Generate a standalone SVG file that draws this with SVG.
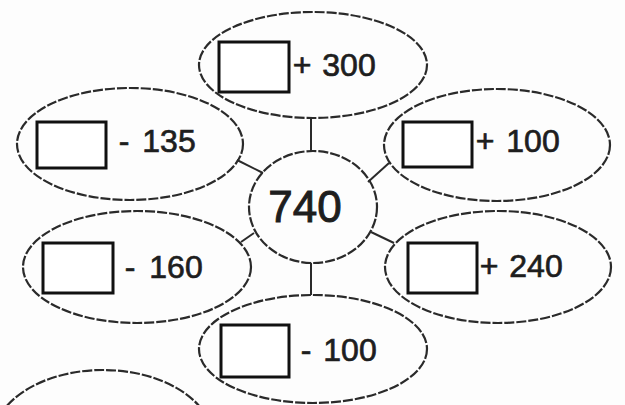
<svg xmlns="http://www.w3.org/2000/svg" width="625" height="405" viewBox="0 0 625 405">
<style>
.oval{fill:none;stroke:#2a2a2a;stroke-width:2.2;stroke-dasharray:10 2}
.box{fill:#fff;stroke:#111;stroke-width:3}
.conn{stroke:#2a2a2a;stroke-width:2;fill:none}
.t{font-family:"Liberation Sans",Arial,sans-serif;font-size:32px;fill:#1e1e1e;stroke:#1e1e1e;stroke-width:0.7;text-anchor:middle}
.big{font-size:44px;stroke-width:1}
</style>
<rect width="625" height="405" fill="#fdfdfd"/>
<g id="connectors">
<line class="conn" x1="311" y1="118" x2="311" y2="152"/>
<line class="conn" x1="311" y1="263" x2="311" y2="295"/>
<line class="conn" x1="237" y1="160" x2="263" y2="173"/>
<line class="conn" x1="389" y1="163" x2="368" y2="182"/>
<line class="conn" x1="254" y1="233" x2="241" y2="242"/>
<line class="conn" x1="371" y1="232" x2="394" y2="243"/>
</g>
<g id="center">
<ellipse class="oval" cx="313" cy="207" rx="64" ry="56"/>
<text class="t big" x="305" y="222">740</text>
</g>
<g id="top">
<ellipse class="oval" cx="313" cy="65" rx="114" ry="53"/>
<rect class="box" x="219" y="42" width="70" height="50"/>
<text class="t"><tspan x="302" y="76">+</tspan><tspan x="349" y="76">300</tspan></text>
</g>
<g id="upper-left">
<ellipse class="oval" cx="130" cy="144" rx="113" ry="56"/>
<rect class="box" x="37" y="122" width="69" height="46"/>
<text class="t"><tspan x="124" y="152">-</tspan><tspan x="169" y="152">135</tspan></text>
</g>
<g id="upper-right">
<ellipse class="oval" cx="497" cy="145" rx="113" ry="56"/>
<rect class="box" x="403" y="122" width="69" height="45"/>
<text class="t"><tspan x="485" y="152">+</tspan><tspan x="533" y="152">100</tspan></text>
</g>
<g id="lower-left">
<ellipse class="oval" cx="137" cy="267" rx="114" ry="56"/>
<rect class="box" x="43" y="243" width="70" height="50"/>
<text class="t"><tspan x="130" y="278">-</tspan><tspan x="176" y="278">160</tspan></text>
</g>
<g id="lower-right">
<ellipse class="oval" cx="498" cy="267" rx="113" ry="56"/>
<rect class="box" x="408" y="243" width="69" height="50"/>
<text class="t"><tspan x="489" y="277">+</tspan><tspan x="536" y="277">240</tspan></text>
</g>
<g id="bottom">
<ellipse class="oval" cx="313" cy="349" rx="114" ry="54"/>
<rect class="box" x="221" y="325" width="68" height="52"/>
<text class="t"><tspan x="306" y="361">-</tspan><tspan x="350" y="361">100</tspan></text>
</g>
<g id="partial">
<ellipse class="oval" cx="103" cy="440" rx="110" ry="70"/>
</g>
</svg>
